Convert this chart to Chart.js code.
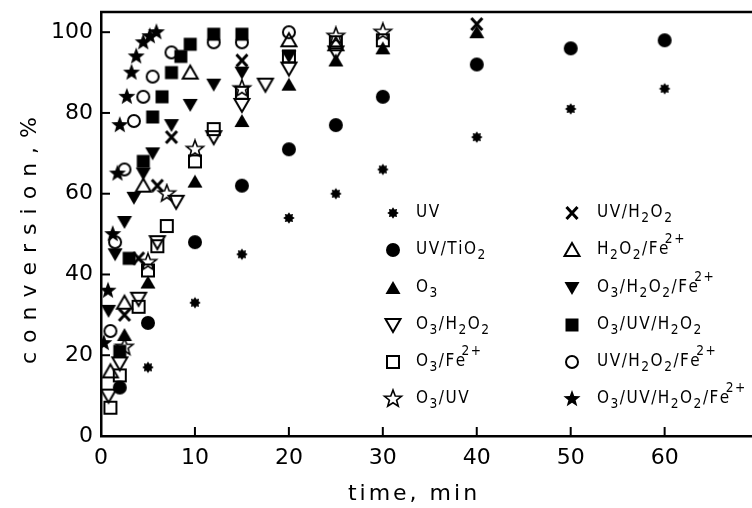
<!DOCTYPE html>
<html>
<head>
<meta charset="utf-8">
<script src="https://cdn.jsdelivr.net/npm/chart.js@4.4.0/dist/chart.umd.min.js"></script>
<style>
  html, body { margin: 0; padding: 0; background: #fff; }
  #wrap { width: 752px; height: 508px; }
</style>
</head>
<body>
<div id="wrap"><canvas id="chart" width="752" height="508"></canvas></div>
<script>
// ---- values: time (min) / conversion (%) ----
const legendLabels = [
  "UV", "UV/TiO_2", "O_3", "O_3/H_2O_2", "O_3/Fe^{2+}", "O_3/UV",
  "UV/H_2O_2", "H_2O_2/Fe^{2+}", "O_3/H_2O_2/Fe^{2+}", "O_3/UV/H_2O_2",
  "UV/H_2O_2/Fe^{2+}", "O_3/UV/H_2O_2/Fe^{2+}"
];
const xTicks = [0, 10, 20, 30, 40, 50, 60];
const yTicks = [0, 20, 40, 60, 80, 100];

const tUV = [5, 10, 15, 20, 25, 30, 40, 50, 60];
const cUV = [17, 33, 45, 54, 60, 66, 74, 81, 86];
const tTiO2 = [2, 5, 10, 15, 20, 25, 30, 40, 50, 60];
const cTiO2 = [12, 28, 48, 62, 71, 77, 84, 92, 96, 98];
const tO3 = [2.5, 5, 10, 15, 20, 25, 30, 40];
const cO3 = [25, 38, 63, 78, 87, 93, 96, 100];
const tO3H2O2 = [0.8, 2, 4, 6, 8, 12, 15, 17.5, 20, 25];
const cO3H2O2 = [10, 18, 34, 48, 58, 74, 82, 87, 91, 95];
const tO3Fe = [1, 2, 4, 5, 6, 7, 10, 12, 15, 20, 25, 30];
const cO3Fe = [7, 15, 32, 41, 47, 52, 68, 76, 85, 94, 97.5, 98];
const tO3UV = [2.5, 5, 7, 10, 15, 25, 30];
const cO3UV = [22, 43, 60, 71, 86, 99, 100];
const tUVH2O2 = [2.5, 4, 6, 7.5, 15, 40];
const cUVH2O2 = [30, 44, 62, 74, 93, 102];
const tH2O2Fe = [1, 2.5, 4.5, 9.5, 20, 25];
const cH2O2Fe = [16, 33, 62, 90, 98, 97];
const tO3H2O2Fe = [0.8, 1.5, 2.5, 3.5, 4.5, 5.5, 7.5, 9.5, 12, 15, 20];
const cO3H2O2Fe = [31, 45, 53, 59, 65, 70, 77, 82, 87, 90, 94];
const tO3UVH2O2 = [2, 3, 4.5, 5.5, 6.5, 7.5, 8.5, 9.5, 12, 15];
const cO3UVH2O2 = [21, 44, 68, 79, 84, 90, 94, 97, 99.5, 99.5];
const tUVH2O2Fe = [1, 1.5, 2.5, 3.5, 4.5, 5.5, 7.5, 12, 15, 20];
const cUVH2O2Fe = [26, 48, 66, 78, 84, 89, 95, 97.5, 97.5, 100];
const tAll = [0.3, 0.75, 1.25, 1.75, 2, 2.75, 3.25, 3.75, 4.5, 5.2, 5.9];
const cAll = [23, 36, 50, 65, 77, 84, 90, 94, 97.5, 99, 100];

// marker images, shared by the points and the legend
function makeMarker(kind, fill) {
  const s = 22;
  const c = document.createElement("canvas");
  c.width = s; c.height = s;
  const g = c.getContext("2d");
  g.translate(s / 2, s / 2);
  g.fillStyle = "#000"; g.strokeStyle = "#000"; g.lineWidth = 2;
  g.beginPath();
  if (kind === "circle") {
    g.arc(0, 0, fill ? 7 : 6, 0, Math.PI * 2);
  } else if (kind === "tri") {
    g.moveTo(0, -7); g.lineTo(7.5, 6); g.lineTo(-7.5, 6); g.closePath();
  } else if (kind === "triDown") {
    g.moveTo(0, 7); g.lineTo(7.5, -6); g.lineTo(-7.5, -6); g.closePath();
  } else if (kind === "square") {
    if (fill) g.rect(-6.5, -6.5, 13, 13); else g.rect(-6, -6, 12, 12);
  } else if (kind === "star") {
    for (let i = 0; i < 10; i++) {
      const r = i % 2 ? 3.8 : 9;
      const a = -Math.PI / 2 + i * Math.PI / 5;
      g.lineTo(r * Math.cos(a), r * Math.sin(a));
    }
    g.closePath();
    g.lineWidth = 1.6;
  } else if (kind === "burst") {
    for (let i = 0; i < 16; i++) {
      const r = i % 2 ? 3.8 : 5.8;
      const a = i * Math.PI / 8;
      g.lineTo(r * Math.cos(a), r * Math.sin(a));
    }
    g.closePath();
  } else if (kind === "cross") {
    g.moveTo(-5.5, -6); g.lineTo(5.5, 6); g.moveTo(5.5, -6); g.lineTo(-5.5, 6);
    g.lineWidth = 3;
    g.stroke();
    return c;
  }
  if (fill) g.fill(); else g.stroke();
  return c;
}

const markers = [
  makeMarker("burst", true), makeMarker("circle", true), makeMarker("tri", true),
  makeMarker("triDown", false), makeMarker("square", false), makeMarker("star", false),
  makeMarker("cross", true), makeMarker("tri", false), makeMarker("triDown", true),
  makeMarker("square", true), makeMarker("circle", false), makeMarker("star", true)
];

const series = [
  [tUV, cUV], [tTiO2, cTiO2], [tO3, cO3], [tO3H2O2, cO3H2O2], [tO3Fe, cO3Fe], [tO3UV, cO3UV],
  [tUVH2O2, cUVH2O2], [tH2O2Fe, cH2O2Fe], [tO3H2O2Fe, cO3H2O2Fe], [tO3UVH2O2, cO3UVH2O2],
  [tUVH2O2Fe, cUVH2O2Fe], [tAll, cAll]
];

const FONT = "'DejaVu Sans', sans-serif";
const LFONT = "'DejaVu Sans Condensed', 'DejaVu Sans', sans-serif";

// text with _x subscripts and ^{..} superscripts
function drawRich(ctx, str, x, y, size) {
  let i = 0, cx = x;
  while (i < str.length) {
    let t, k;
    if (str[i] === "_") { t = str[i + 1]; k = "sub"; i += 2; }
    else if (str[i] === "^") { const e = str.indexOf("}", i); t = str.slice(i + 2, e); k = "sup"; i = e + 1; }
    else { t = str[i]; k = "n"; i++; }
    const fs = k === "n" ? size : size * 0.8;
    const dy = k === "sub" ? size * 0.35 : k === "sup" ? -size * 0.6 : 0;
    if (k === "sup") cx -= size * 0.3;
    ctx.font = fs + "px " + LFONT;
    ctx.fillText(t, cx, y + dy);
    cx += ctx.measureText(t).width;
  }
}

const decor = {
  id: "decor",
  afterDraw(chart) {
    const { ctx, chartArea: a } = chart;
    const xs = chart.scales.x, ys = chart.scales.y;
    ctx.save();
    ctx.strokeStyle = "#000";
    ctx.lineWidth = 2.5;
    ctx.beginPath(); ctx.moveTo(a.left - 1, a.top); ctx.lineTo(a.right, a.top); ctx.stroke();

    // ticks point inwards
    ctx.lineWidth = 2;
    xs.ticks.forEach(t => {
      if (t.value === 0) return;
      const px = xs.getPixelForValue(t.value);
      ctx.beginPath(); ctx.moveTo(px, a.bottom); ctx.lineTo(px, a.bottom - 9); ctx.stroke();
    });
    ys.ticks.forEach(t => {
      if (t.value === 0) return;
      const py = ys.getPixelForValue(t.value);
      ctx.beginPath(); ctx.moveTo(a.left, py); ctx.lineTo(a.left + 9, py); ctx.stroke();
    });

    // axis titles
    ctx.fillStyle = "#000";
    ctx.textBaseline = "middle";
    ctx.textAlign = "center";
    ctx.font = "22px " + FONT;
    ctx.letterSpacing = "3px";
    ctx.fillText("time, min", 414, 494);
    ctx.save();
    ctx.translate(30, 236);
    ctx.rotate(-Math.PI / 2);
    ctx.letterSpacing = "9px";
    ctx.fillText("conversion,%", 0, 0);
    ctx.restore();

    // legend in two columns
    ctx.textAlign = "left";
    ctx.letterSpacing = "1.5px";
    const rowY = [213, 250, 288, 325, 362, 399];
    legendLabels.forEach((lab, i) => {
      const col = i < 6 ? 0 : 1;
      const mx = col ? 572 : 393;
      const tx = col ? 597 : 416;
      const y = rowY[i % 6];
      const m = markers[i];
      ctx.drawImage(m, mx - m.width / 2, y - m.height / 2);
      drawRich(ctx, lab, tx, y, 17);
    });
    ctx.restore();
  }
};

new Chart(document.getElementById("chart"), {
  type: "scatter",
  data: {
    datasets: series.map((s, i) => ({
      label: legendLabels[i],
      data: s[0].map((t, j) => ({ x: t, y: s[1][j] })),
      pointStyle: markers[i],
      pointRadius: 7,
      showLine: false
    }))
  },
  options: {
    responsive: false,
    animation: false,
    layout: { autoPadding: false, padding: { top: 12, right: 0, left: 0, bottom: 0 } },
    plugins: { legend: { display: false }, tooltip: { enabled: false } },
    scales: {
      x: {
        type: "linear", min: 0, max: 69.3,
        afterBuildTicks: s => { s.ticks = xTicks.map(v => ({ value: v })); },
        afterFit: s => { s.height = 72; s.paddingLeft = 0; s.paddingRight = 0; },
        grid: { display: false, drawTicks: false },
        border: { display: true, color: "#000", width: 2.5 },
        ticks: { color: "#000", padding: 9, font: { family: FONT, size: 22 }, maxRotation: 0 }
      },
      y: {
        type: "linear", min: 0, max: 105,
        afterBuildTicks: s => { s.ticks = yTicks.map(v => ({ value: v })); },
        afterFit: s => { s.width = 101; s.paddingTop = 0; s.paddingBottom = 0; },
        grid: { display: false, drawTicks: false },
        border: { display: true, color: "#000", width: 2.5 },
        ticks: { color: "#000", padding: 8, font: { family: FONT, size: 22 } }
      }
    }
  },
  plugins: [decor]
});
</script>
</body>
</html>
